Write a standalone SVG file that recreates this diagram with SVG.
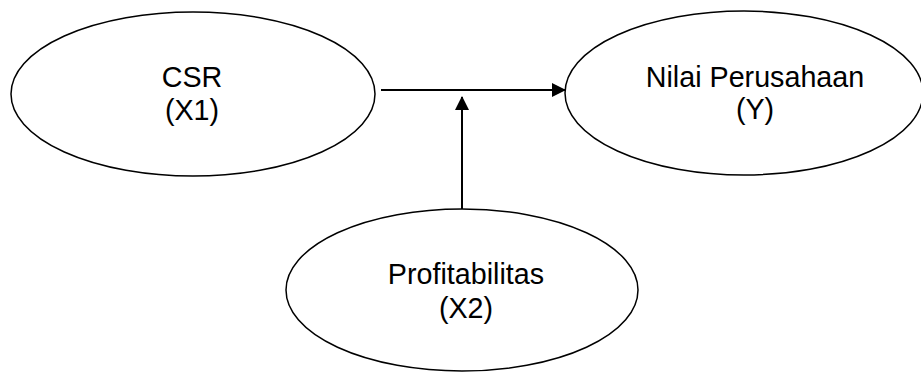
<svg xmlns="http://www.w3.org/2000/svg" width="921" height="372" viewBox="0 0 921 372">
<style>
.node{fill:#fff;stroke:#000;stroke-width:1.5}
.lbl{font-family:"Liberation Sans",Arial,sans-serif;font-size:28.7px;fill:#000;text-anchor:middle}
.conn{stroke:#000;stroke-width:2;fill:none}
</style>
<defs>
<marker id="ah" viewBox="0 0 14 14" refX="13" refY="7" markerWidth="14" markerHeight="14" markerUnits="userSpaceOnUse" orient="auto">
<path d="M0,0 L14,7 L0,14 Z" fill="#000"/>
</marker>
</defs>
<rect width="921" height="372" fill="#fff"/>
<g id="csr">
<ellipse class="node" cx="193" cy="94" rx="182" ry="82"/>
<text class="lbl" x="192" y="87">CSR</text>
<text class="lbl" x="192" y="120">(X1)</text>
</g>
<g id="nilai">
<ellipse class="node" cx="744" cy="93" rx="179" ry="82"/>
<text class="lbl" x="755" y="87">Nilai Perusahaan</text>
<text class="lbl" x="755" y="119">(Y)</text>
</g>
<g id="profitabilitas">
<ellipse class="node" cx="462" cy="290" rx="176" ry="81"/>
<text class="lbl" x="466" y="284">Profitabilitas</text>
<text class="lbl" x="466" y="318">(X2)</text>
</g>
<g id="connectors">
<line class="conn" x1="381" y1="90" x2="565" y2="90" marker-end="url(#ah)"/>
<line class="conn" x1="462" y1="209" x2="462" y2="97" marker-end="url(#ah)"/>
</g>
</svg>
